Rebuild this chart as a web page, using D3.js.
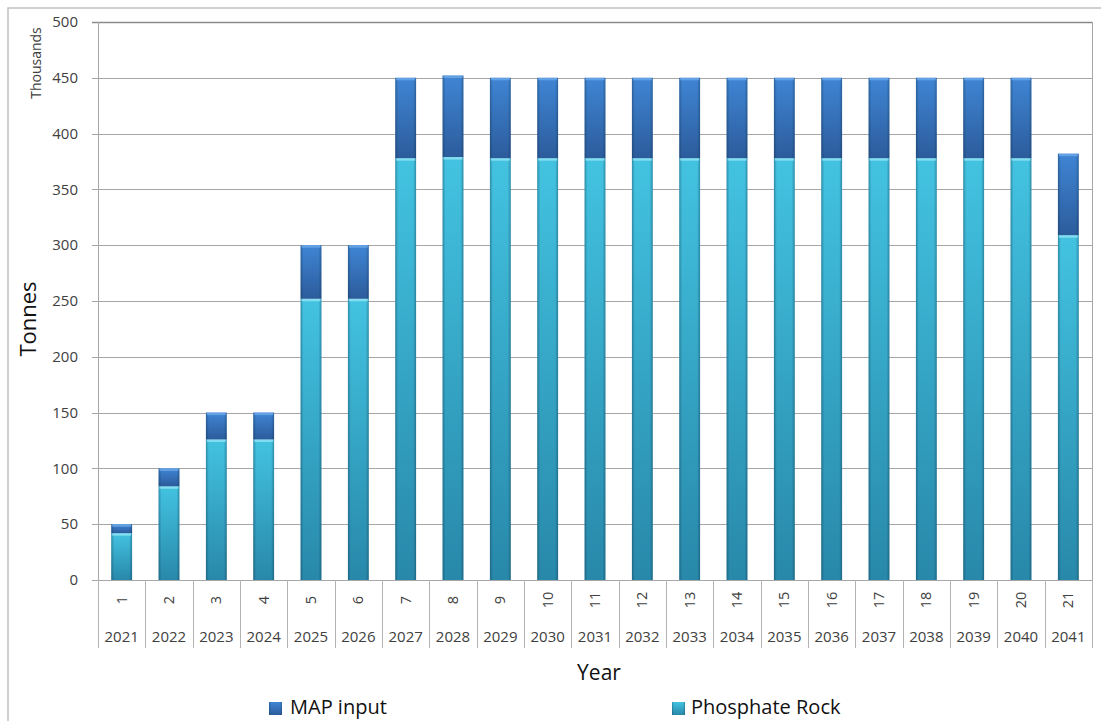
<!DOCTYPE html>
<html>
<head>
<meta charset="utf-8">
<script src="https://cdn.jsdelivr.net/npm/d3@7"></script>
<style>
  html, body { margin: 0; padding: 0; background: #fff; }
  svg text { font-family: "Open Sans", "Noto Sans", sans-serif; fill: #404040; }
</style>
</head>
<body>
<svg id="chart" width="1101" height="721"></svg>
<script>
// Annual production, thousand tonnes
const periods = ["1","2","3","4","5","6","7","8","9","10","11","12","13","14","15","16","17","18","19","20","21"];
const years = ["2021","2022","2023","2024","2025","2026","2027","2028","2029","2030","2031","2032","2033","2034","2035","2036","2037","2038","2039","2040","2041"];
const phosphateRock = [42, 84, 126, 126, 252, 252, 378, 379, 378, 378, 378, 378, 378, 378, 378, 378, 378, 378, 378, 378, 309];
const mapInput = [8, 16, 24, 24, 48, 48, 72, 73, 72, 72, 72, 72, 72, 72, 72, 72, 72, 72, 72, 72, 73];
const yTicks = [0, 50, 100, 150, 200, 250, 300, 350, 400, 450, 500];
const seriesNames = ["MAP input", "Phosphate Rock"];

const svg = d3.select("#chart");
const plot = { left: 98, right: 1092, top: 22, bottom: 580 };

const x = d3.scaleBand().domain(periods).range([plot.left, plot.right]).padding(0);
const y = d3.scaleLinear().domain([0, 500]).range([plot.bottom, plot.top]);
const barW = x.step() * 0.44;

// gradients
const defs = svg.append("defs");
function vGrad(id, top, bottom) {
  const g = defs.append("linearGradient").attr("id", id)
    .attr("x1", 0).attr("y1", 0).attr("x2", 0).attr("y2", 1);
  g.append("stop").attr("offset", "0%").attr("stop-color", top);
  g.append("stop").attr("offset", "100%").attr("stop-color", bottom);
}
vGrad("gRock", "#43c3e1", "#2888aa");
vGrad("gMap", "#3f85d4", "#2c5c9c");
const edge = defs.append("linearGradient").attr("id", "gEdge")
  .attr("x1", 0).attr("y1", 0).attr("x2", 1).attr("y2", 0);
[[0, 0.35], [0.14, 0.0], [0.86, 0.0], [1, 0.35]].forEach(([o, a]) =>
  edge.append("stop").attr("offset", o).attr("stop-color", "#0a2a40").attr("stop-opacity", a));

// outer chart frame
svg.append("rect").attr("x", 8).attr("y", 8).attr("width", 1100).attr("height", 720)
  .attr("fill", "none").attr("stroke", "#c0c0c0").attr("stroke-width", 1.5);

// gridlines + y ticks
svg.append("g").selectAll("line").data(yTicks).join("line")
  .attr("x1", plot.left - 6).attr("x2", plot.right)
  .attr("y1", d => Math.round(y(d)) + 0.5).attr("y2", d => Math.round(y(d)) + 0.5)
  .attr("stroke", d => d === 500 ? "#8a8a8a" : "#a6a6a6")
  .attr("stroke-width", d => d === 500 ? 1.6 : 1);

svg.append("g").selectAll("text").data(yTicks).join("text")
  .attr("x", 78).attr("y", d => y(d)).attr("dy", "0.35em")
  .attr("text-anchor", "end").attr("font-size", 15)
  .text(d => d);

// axes lines
svg.append("line").attr("x1", plot.left + 0.5).attr("x2", plot.left + 0.5)
  .attr("y1", plot.top).attr("y2", 648).attr("stroke", "#a6a6a6");
svg.append("line").attr("x1", plot.right + 0.5).attr("x2", plot.right + 0.5)
  .attr("y1", plot.top).attr("y2", 648).attr("stroke", "#a6a6a6");

// stacked bars
const stackData = periods.map((p, i) => ({ period: p, rock: phosphateRock[i], map: mapInput[i] }));
const stacked = d3.stack().keys(["rock", "map"])(stackData);
const fills = { rock: "url(#gRock)", map: "url(#gMap)" };
const highlights = { rock: "#8fe3f3", map: "#6aa6e8" };

const layers = svg.append("g").selectAll("g").data(stacked).join("g");
layers.each(function (layer) {
  const g = d3.select(this);
  const segs = g.selectAll("g").data(layer).join("g");
  segs.append("rect")
    .attr("x", d => x(d.data.period) + (x.bandwidth() - barW) / 2)
    .attr("y", d => y(d[1]))
    .attr("width", barW)
    .attr("height", d => y(d[0]) - y(d[1]))
    .attr("fill", fills[layer.key]);
  segs.append("rect")
    .attr("x", d => x(d.data.period) + (x.bandwidth() - barW) / 2)
    .attr("y", d => y(d[1]))
    .attr("width", barW)
    .attr("height", d => y(d[0]) - y(d[1]))
    .attr("fill", "url(#gEdge)");
  segs.append("rect")
    .attr("x", d => x(d.data.period) + (x.bandwidth() - barW) / 2 + 1)
    .attr("y", d => y(d[1]))
    .attr("width", barW - 2)
    .attr("height", 2.5)
    .attr("fill", highlights[layer.key])
    .attr("opacity", 0.85);
});

// x axis baseline
svg.append("line").attr("x1", plot.left - 6).attr("x2", plot.right)
  .attr("y1", plot.bottom + 0.5).attr("y2", plot.bottom + 0.5).attr("stroke", "#a6a6a6");

// category separators
const bounds = periods.map(p => x(p)).concat([plot.right]);
svg.append("g").selectAll("line").data(bounds).join("line")
  .attr("x1", d => Math.round(d) + 0.5).attr("x2", d => Math.round(d) + 0.5)
  .attr("y1", plot.bottom).attr("y2", 648)
  .attr("stroke", "#b4b4b4");

// period labels (rotated)
svg.append("g").selectAll("text").data(periods).join("text")
  .attr("transform", d => `translate(${x(d) + x.bandwidth() / 2},600) rotate(-90)`)
  .attr("text-anchor", "middle").attr("dy", "0.35em").attr("font-size", 14.5)
  .text(d => d);

// year labels
svg.append("g").selectAll("text").data(years).join("text")
  .attr("x", (d, i) => x(periods[i]) + x.bandwidth() / 2)
  .attr("y", 642)
  .attr("text-anchor", "middle").attr("font-size", 15)
  .text(d => d);

// axis titles
svg.append("text").attr("transform", "translate(36,319) rotate(-90)")
  .attr("text-anchor", "middle").attr("font-size", 22)
  .style("fill", "#111").text("Tonnes");
svg.append("text").attr("transform", "translate(41,63) rotate(-90)")
  .attr("text-anchor", "middle").attr("font-size", 14).text("Thousands");
svg.append("text").attr("x", 599).attr("y", 680)
  .attr("text-anchor", "middle").attr("font-size", 21).style("fill", "#111").text("Year");

// legend
const legendPos = [{ mx: 269, tx: 290 }, { mx: 672, tx: 691 }];
const legendFill = ["url(#gMap)", "url(#gRock)"];
const lg = svg.append("g").selectAll("g").data(seriesNames).join("g");
lg.append("rect").attr("x", (d, i) => legendPos[i].mx).attr("y", 702)
  .attr("width", 13).attr("height", 13).attr("fill", (d, i) => legendFill[i]);
lg.append("rect").attr("x", (d, i) => legendPos[i].mx).attr("y", 702)
  .attr("width", 13).attr("height", 13).attr("fill", "url(#gEdge)");
lg.append("text").attr("x", (d, i) => legendPos[i].tx).attr("y", 714)
  .attr("font-size", 20).style("fill", "#111").text(d => d);
</script>
</body>
</html>
